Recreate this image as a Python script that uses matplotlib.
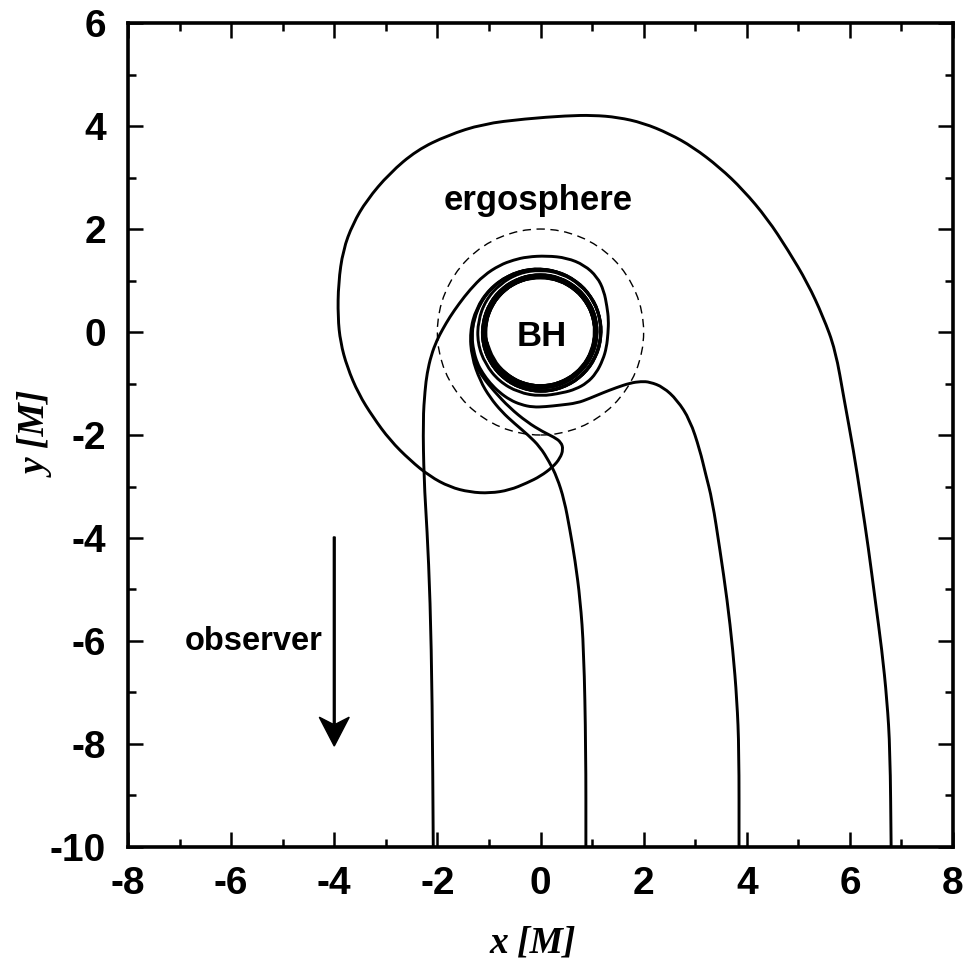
import numpy as np
import matplotlib
matplotlib.use("Agg")
import matplotlib.pyplot as plt
from matplotlib.patches import Circle, PathPatch
from matplotlib.path import Path
from matplotlib.ticker import MultipleLocator

plt.rcParams['axes.unicode_minus'] = False

# photon trajectories, outer part (x, y in M)
c1_x = [-2.08, -2.10, -2.14, -2.20, -2.26, -2.28, -2.24, -2.20, -2.12, -2.01, -1.90, -1.76, -1.58, -1.37, -1.10,
        -0.79, -0.52, -0.26, 0.12, 0.51, 0.85, 1.10, 1.23, 1.29, 1.32, 1.31, 1.28, 1.21, 1.08, 0.90, 0.68, 0.44]
c1_y = [-10.0, -7.15, -5.20, -3.84, -2.87, -1.71, -1.13, -0.80, -0.45, -0.16, 0.05, 0.29, 0.55, 0.82, 1.10,
        1.30, 1.40, 1.46, 1.48, 1.44, 1.30, 1.07, 0.80, 0.49, 0.24, -0.02, -0.30, -0.54, -0.80, -0.99, -1.11, -1.18]

c2_x = [0.88, 0.88, 0.84, 0.77, 0.67, 0.57, 0.46, 0.32, 0.17, -0.01, -0.24, -0.50, -0.75, -0.98, -1.17]
c2_y = [-10.0, -8.12, -6.17, -5.20, -4.43, -3.84, -3.26, -2.82, -2.52, -2.23, -2.00, -1.78, -1.55, -1.27, -0.95]

c3_x = [3.85, 3.85, 3.81, 3.73, 3.62, 3.48, 3.33, 3.20, 3.09, 2.90, 2.65, 2.38, 2.12, 1.95, 1.74, 1.47, 1.21, 0.95,
        0.71, 0.38, 0.10, -0.15, -0.38, -0.59, -0.80, -0.98, -1.12, -1.23, -1.30, -1.33]
c3_y = [-10.0, -8.12, -7.15, -6.17, -5.20, -4.23, -3.26, -2.75, -2.29, -1.71, -1.32, -1.07, -0.97, -0.96, -0.99, -1.08,
        -1.18, -1.29, -1.38, -1.42, -1.45, -1.46, -1.41, -1.32, -1.17, -0.99, -0.80, -0.60, -0.35, -0.10]

c4_x = [6.80, 6.78, 6.72, 6.62, 6.49, 6.36, 6.22, 6.07, 5.89, 5.72, 5.48, 5.18, 4.80, 4.40, 3.93, 3.47, 2.96, 2.50,
        1.99, 1.50, 1.02, 0.51, -0.30, -1.12, -1.80, -2.40, -2.93, -3.37, -3.64, -3.83, -3.92, -3.93, -3.88, -3.75,
        -3.53, -3.25, -2.92, -2.53, -2.15, -1.76, -1.37, -0.98, -0.60, -0.26, 0.00, 0.24, 0.38, 0.44, 0.40, 0.26,
        0.05, -0.26, -0.60, -0.90, -1.12, -1.23]
c4_y = [-10.0, -8.12, -7.15, -6.17, -5.20, -4.20, -3.26, -2.30, -1.32, -0.35, 0.30, 0.95, 1.59, 2.20, 2.76, 3.20,
        3.59, 3.85, 4.06, 4.17, 4.21, 4.20, 4.14, 4.04, 3.82, 3.53, 3.08, 2.56, 2.10, 1.59, 0.95, 0.29, -0.20, -0.68,
        -1.20, -1.65, -2.10, -2.49, -2.80, -3.01, -3.11, -3.13, -3.07, -2.93, -2.80, -2.62, -2.45, -2.28, -2.14,
        -2.04, -1.94, -1.75, -1.47, -1.15, -0.88, -0.68]

# inner windings around the hole: start angle (deg), radii every 20 deg clockwise
t1_start, t2_start, t3_start, t4_start = -90, -160, -190, -165
t1_r = [1.25, 1.25, 1.25, 1.24, 1.24, 1.23, 1.23, 1.22, 1.22, 1.21, 1.21, 1.20, 1.20, 1.19, 1.19, 1.18, 1.18, 1.17,
        1.17, 1.16, 1.16, 1.15, 1.15, 1.14, 1.14, 1.14, 1.13, 1.13, 1.13, 1.12, 1.12, 1.12, 1.11, 1.11, 1.11, 1.10,
        1.10, 1.10, 1.10, 1.09, 1.09, 1.09, 1.09, 1.08, 1.08, 1.08, 1.08, 1.08, 1.07, 1.07, 1.07, 1.07, 1.07, 1.07]
t2_r = [1.42, 1.37, 1.33, 1.30, 1.27, 1.25, 1.23, 1.22, 1.21, 1.20, 1.19, 1.18, 1.18, 1.17, 1.17, 1.16, 1.16, 1.15,
        1.15, 1.14, 1.14, 1.13, 1.13, 1.13, 1.12, 1.12, 1.12, 1.11, 1.11, 1.11, 1.10, 1.10, 1.10, 1.09, 1.09, 1.09,
        1.09, 1.08, 1.08, 1.08, 1.08, 1.07, 1.07, 1.07, 1.07, 1.07, 1.06, 1.06, 1.06, 1.06, 1.06, 1.06, 1.06, 1.06]
t3_r = [1.32, 1.30, 1.28, 1.26, 1.24, 1.22, 1.21, 1.20, 1.19, 1.18, 1.17, 1.17, 1.16, 1.16, 1.15, 1.15, 1.14, 1.14,
        1.13, 1.13, 1.13, 1.12, 1.12, 1.12, 1.11, 1.11, 1.11, 1.10, 1.10, 1.10, 1.10, 1.09, 1.09, 1.09, 1.09, 1.08,
        1.08, 1.08, 1.08, 1.08, 1.07, 1.07, 1.07, 1.07, 1.07, 1.07, 1.07, 1.06, 1.06, 1.06, 1.06, 1.06, 1.06, 1.06]
t4_r = [1.38, 1.34, 1.31, 1.28, 1.26, 1.24, 1.23, 1.22, 1.21, 1.20, 1.19, 1.19, 1.18, 1.17, 1.17, 1.16, 1.16, 1.15,
        1.15, 1.14, 1.14, 1.14, 1.13, 1.13, 1.12, 1.12, 1.12, 1.11, 1.11, 1.11, 1.10, 1.10, 1.10, 1.10, 1.09, 1.09,
        1.09, 1.09, 1.08, 1.08, 1.08, 1.08, 1.08, 1.07, 1.07, 1.07, 1.07, 1.07, 1.07, 1.06, 1.06, 1.06, 1.06, 1.06]

ergo_r = 2.0


def full_path(xs, ys, t0, rs):
    """Glue the outer part and the polar winding part of one trajectory."""
    th = np.radians(t0 - 20.0 * np.arange(len(rs)))
    rs = np.array(rs)
    return (np.concatenate([xs, rs * np.cos(th)]),
            np.concatenate([ys, rs * np.sin(th)]))


def smooth_path(px, py):
    """Quadratic B-spline path: the read points act as control points."""
    pts = np.column_stack([px, py])
    mids = 0.5 * (pts[1:] + pts[:-1])
    verts = [pts[0], mids[0]]
    codes = [Path.MOVETO, Path.LINETO]
    for i in range(1, len(pts) - 1):
        verts += [pts[i], mids[i]]
        codes += [Path.CURVE3, Path.CURVE3]
    verts.append(pts[-1])
    codes.append(Path.LINETO)
    return Path(verts, codes)


fig = plt.figure(figsize=(9.69, 9.64), dpi=100)
ax = fig.add_axes([0.1321, 0.1214, 0.8514, 0.8547])

for xs, ys, t0, rs in [(c1_x, c1_y, t1_start, t1_r), (c2_x, c2_y, t2_start, t2_r),
                       (c3_x, c3_y, t3_start, t3_r), (c4_x, c4_y, t4_start, t4_r)]:
    px, py = full_path(xs, ys, t0, rs)
    ax.add_patch(PathPatch(smooth_path(px, py), fill=False, ec='k', lw=2.1, capstyle='butt', joinstyle='round'))

ax.add_patch(Circle((0, 0), ergo_r, fill=False, ec='k', lw=1.0, ls=(0, (6, 4))))

sans = 'Liberation Sans'
ax.text(0.03, -0.27, 'BH', ha='center', va='baseline', fontsize=25, fontweight='bold', family=sans)
ax.text(-0.05, 2.37, 'ergosphere', ha='center', va='baseline', fontsize=25, fontweight='bold', family=sans)
ax.text(-4.22, -6.17, 'observer', ha='right', va='baseline', fontsize=23.5, fontweight='bold', family=sans)
ax.arrow(-4.0, -3.98, 0, -4.06, width=0.035, head_width=0.58, head_length=0.56,
         length_includes_head=True, overhang=0.25, fc='k', ec='k')

ax.set_xlim(-8, 8)
ax.set_ylim(-10, 6)
ax.xaxis.set_major_locator(MultipleLocator(2))
ax.xaxis.set_minor_locator(MultipleLocator(1))
ax.yaxis.set_major_locator(MultipleLocator(2))
ax.yaxis.set_minor_locator(MultipleLocator(1))
ax.tick_params(which='both', direction='in', top=True, right=True, width=1.8)
ax.tick_params(which='major', length=11, labelsize=28)
ax.tick_params(which='minor', length=6)
ax.tick_params(axis='x', which='major', pad=14)
ax.tick_params(axis='y', which='major', pad=16)
for lab in ax.get_xticklabels() + ax.get_yticklabels():
    lab.set_family(sans)
    lab.set_fontweight('bold')
for sp in ax.spines.values():
    sp.set_linewidth(2.6)

ax.set_xlabel('x [M]', family='Liberation Serif', style='italic', fontweight='bold', fontsize=27)
ax.set_ylabel('y [M]', family='Liberation Serif', style='italic', fontweight='bold', fontsize=27)
ax.xaxis.set_label_coords(0.49, -0.095)
ax.yaxis.set_label_coords(-0.088, 0.5)

fig.savefig('out.png', dpi=100)
